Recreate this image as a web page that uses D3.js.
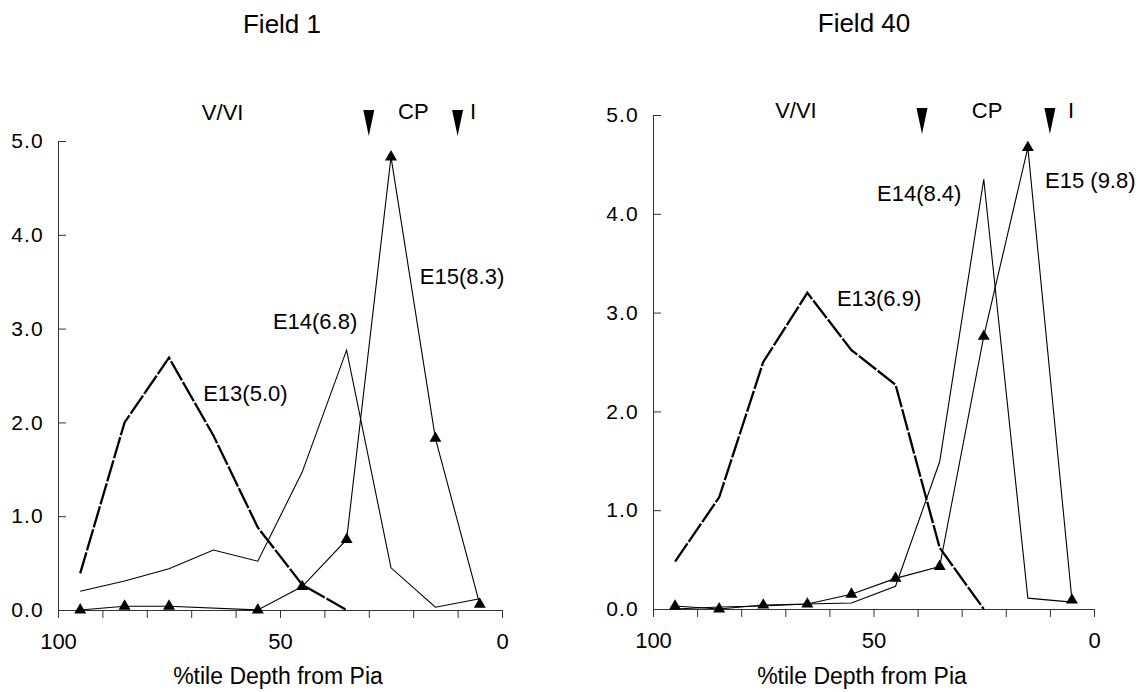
<!DOCTYPE html>
<html>
<head>
<meta charset="utf-8">
<script src="https://cdn.jsdelivr.net/npm/d3@7"></script>
<style>
  html, body { margin: 0; padding: 0; background: #fff; }
  svg { display: block; font-family: "Liberation Sans", Arial, sans-serif; }
</style>
</head>
<body>
<svg id="chart" width="1148" height="692"></svg>
<script>
// ---------- data ----------
const depths = [95, 85, 75, 65, 55, 45, 35, 25, 15, 5];
const xTickValues = [100, 90, 80, 70, 60, 50, 40, 30, 20, 10, 0];
const xTickLabels = [100, 50, 0];
const yTickValues = [0, 1, 2, 3, 4, 5];

// Field 1
const f1E13 = [0.39, 2.0, 2.69, 1.86, 0.88, 0.27, 0.0];
const f1E14 = [0.2, 0.31, 0.44, 0.64, 0.52, 1.47, 2.77, 0.45, 0.03, 0.12];
const f1E15 = [0.0, 0.04, 0.04, null, 0.0, 0.25, 0.75, 4.83, 1.83, 0.06];
const f1Boundaries = [30, 10];
const f1Layers = [["V/VI", 67.6, 5.22], ["CP", 23.4, 5.23], ["I", 7.2, 5.23]];
const f1Labels = [["E13(5.0)", 67.3, 2.23], ["E14(6.8)", 51.6, 3.0], ["E15(8.3)", 18.5, 3.48]];

// Field 40
const f40E13 = [0.48, 1.13, 2.5, 3.2, 2.62, 2.27, 0.62, 0.0];
const f40E14 = [0.0, 0.02, 0.03, 0.05, 0.06, 0.23, 1.49, 4.35, 0.11, 0.07];
const f40E15 = [0.03, 0.0, 0.04, 0.05, 0.15, 0.31, 0.43, 2.76, 4.67, 0.09];
const f40Boundaries = [39, 10];
const f40Layers = [["V/VI", 72.3, 4.97], ["CP", 27.7, 4.97], ["I", 5.9, 4.97]];
const f40Labels = [["E13(6.9)", 58.3, 3.07], ["E14(8.4)", 49.2, 4.13], ["E15 (9.8)", 11.1, 4.26]];

const panels = [
  { title: "Field 1", titleX: 282, titleY: 33, x0: 58, x1: 502, y0: 610, y5: 141,
    e13: f1E13, e14: f1E14, e15: f1E15, bounds: f1Boundaries, layers: f1Layers, labels: f1Labels,
    boundTop: 110, axisTitleX: 278 },
  { title: "Field 40", titleX: 864, titleY: 32, x0: 653, x1: 1094, y0: 609, y5: 115,
    e13: f40E13, e14: f40E14, e15: f40E15, bounds: f40Boundaries, layers: f40Layers, labels: f40Labels,
    boundTop: 108, axisTitleX: 862 }
];

const svg = d3.select("#chart");

function pts(vals) {
  return vals.map((v, i) => [depths[i], v]).filter(d => d[1] !== null);
}

panels.forEach(p => {
  const x = d3.scaleLinear().domain([100, 0]).range([p.x0, p.x1]);
  const y = d3.scaleLinear().domain([0, 5]).range([p.y0, p.y5]);
  const g = svg.append("g");

  // title
  g.append("text").attr("x", p.titleX).attr("y", p.titleY)
    .attr("text-anchor", "middle").attr("font-size", 26).text(p.title);

  // x axis
  const xa = g.append("g").attr("transform", `translate(0,${p.y0})`)
    .call(d3.axisBottom(x).tickValues(xTickValues).tickSize(8).tickPadding(15)
      .tickFormat(d => xTickLabels.includes(d) ? d : ""));
  xa.selectAll("path, line").attr("stroke", "#333");
  xa.selectAll("text").attr("font-size", 22).attr("fill", "#000")
    .attr("font-family", "Liberation Sans, Arial, sans-serif");

  // y axis
  const ya = g.append("g").attr("transform", `translate(${p.x0},0)`)
    .call(d3.axisLeft(y).tickValues(yTickValues).tickSize(-8).tickSizeOuter(0).tickPadding(14)
      .tickFormat(d3.format(".1f")));
  ya.selectAll("path, line").attr("stroke", "#333");
  ya.selectAll("text").attr("font-size", 21).attr("letter-spacing", 1.2).attr("fill", "#000")
    .attr("font-family", "Liberation Sans, Arial, sans-serif");

  // axis title
  g.append("text").attr("x", p.axisTitleX).attr("y", 684)
    .attr("text-anchor", "middle").attr("font-size", 23).text("%tile Depth from Pia");

  const line = d3.line().x(d => x(d[0])).y(d => y(d[1]));

  // E13 dashed thick
  g.append("path").datum(pts(p.e13)).attr("d", line)
    .attr("fill", "none").attr("stroke", "#000").attr("stroke-width", 2.3)
    .attr("stroke-dasharray", "22,2");
  // E14 thin
  g.append("path").datum(pts(p.e14)).attr("d", line)
    .attr("fill", "none").attr("stroke", "#000").attr("stroke-width", 1.1);
  // E15 thin with triangles
  const e15 = pts(p.e15);
  g.append("path").datum(e15).attr("d", line)
    .attr("fill", "none").attr("stroke", "#000").attr("stroke-width", 1.1);
  g.selectAll(".tri").data(e15).enter().append("path")
    .attr("d", d3.symbol().type(d3.symbolTriangle).size(62))
    .attr("transform", d => `translate(${x(d[0])},${y(d[1])})`)
    .attr("fill", "#000");

  // layer boundary markers (inverted triangles)
  g.selectAll(".bound").data(p.bounds).enter().append("path")
    .attr("d", d => {
      const cx = x(d), t = p.boundTop;
      return `M${cx - 5.5},${t} L${cx + 5.5},${t} L${cx},${t + 26} Z`;
    })
    .attr("fill", "#000");

  // layer labels
  g.selectAll(".layer").data(p.layers).enter().append("text")
    .attr("x", d => x(d[1])).attr("y", d => y(d[2]))
    .attr("font-size", 22).text(d => d[0]);

  // series labels
  g.selectAll(".slab").data(p.labels).enter().append("text")
    .attr("x", d => x(d[1])).attr("y", d => y(d[2]))
    .attr("font-size", 22).text(d => d[0]);
});
</script>
</body>
</html>
